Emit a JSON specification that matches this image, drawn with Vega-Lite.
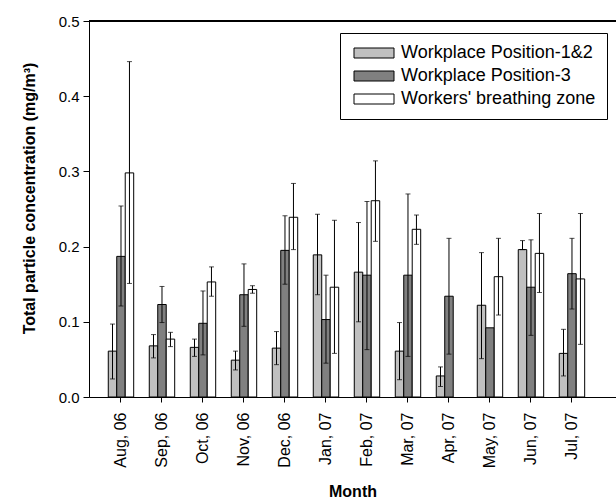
{
  "$schema": "https://vega.github.io/schema/vega-lite/v6.json",
  "width": 527,
  "height": 376,
  "autosize": {"type": "none"},
  "padding": {"left": 89, "top": 21, "right": 0, "bottom": 106},
  "background": "white",
  "config": {
    "font": "Liberation Sans",
    "view": {"stroke": null},
    "axis": {"grid": false, "domainColor": "black", "tickColor": "black", "labelColor": "black", "titleColor": "black", "titleFontWeight": "bold", "titleFontSize": 15, "labelFont": "Liberation Sans", "titleFont": "Liberation Sans"}
  },
  "data": {"values": [
    {"month": "Aug, 06", "series": "Workplace Position-1&2", "value": 0.061, "lo": 0.024, "hi": 0.097},
    {"month": "Aug, 06", "series": "Workplace Position-3", "value": 0.187, "lo": 0.121, "hi": 0.254},
    {"month": "Aug, 06", "series": "Workers' breathing zone", "value": 0.298, "lo": 0.151, "hi": 0.446},
    {"month": "Sep, 06", "series": "Workplace Position-1&2", "value": 0.068, "lo": 0.052, "hi": 0.083},
    {"month": "Sep, 06", "series": "Workplace Position-3", "value": 0.123, "lo": 0.099, "hi": 0.147},
    {"month": "Sep, 06", "series": "Workers' breathing zone", "value": 0.077, "lo": 0.067, "hi": 0.086},
    {"month": "Oct, 06", "series": "Workplace Position-1&2", "value": 0.066, "lo": 0.054, "hi": 0.077},
    {"month": "Oct, 06", "series": "Workplace Position-3", "value": 0.098, "lo": 0.056, "hi": 0.141},
    {"month": "Oct, 06", "series": "Workers' breathing zone", "value": 0.153, "lo": 0.134, "hi": 0.173},
    {"month": "Nov, 06", "series": "Workplace Position-1&2", "value": 0.049, "lo": 0.036, "hi": 0.061},
    {"month": "Nov, 06", "series": "Workplace Position-3", "value": 0.136, "lo": 0.094, "hi": 0.177},
    {"month": "Nov, 06", "series": "Workers' breathing zone", "value": 0.143, "lo": 0.138, "hi": 0.148},
    {"month": "Dec, 06", "series": "Workplace Position-1&2", "value": 0.065, "lo": 0.043, "hi": 0.087},
    {"month": "Dec, 06", "series": "Workplace Position-3", "value": 0.195, "lo": 0.150, "hi": 0.241},
    {"month": "Dec, 06", "series": "Workers' breathing zone", "value": 0.239, "lo": 0.196, "hi": 0.284},
    {"month": "Jan, 07", "series": "Workplace Position-1&2", "value": 0.189, "lo": 0.136, "hi": 0.243},
    {"month": "Jan, 07", "series": "Workplace Position-3", "value": 0.103, "lo": 0.045, "hi": 0.162},
    {"month": "Jan, 07", "series": "Workers' breathing zone", "value": 0.146, "lo": 0.058, "hi": 0.235},
    {"month": "Feb, 07", "series": "Workplace Position-1&2", "value": 0.166, "lo": 0.100, "hi": 0.232},
    {"month": "Feb, 07", "series": "Workplace Position-3", "value": 0.162, "lo": 0.063, "hi": 0.260},
    {"month": "Feb, 07", "series": "Workers' breathing zone", "value": 0.261, "lo": 0.207, "hi": 0.314},
    {"month": "Mar, 07", "series": "Workplace Position-1&2", "value": 0.061, "lo": 0.023, "hi": 0.099},
    {"month": "Mar, 07", "series": "Workplace Position-3", "value": 0.162, "lo": 0.054, "hi": 0.270},
    {"month": "Mar, 07", "series": "Workers' breathing zone", "value": 0.223, "lo": 0.203, "hi": 0.242},
    {"month": "Apr, 07", "series": "Workplace Position-1&2", "value": 0.028, "lo": 0.014, "hi": 0.040},
    {"month": "Apr, 07", "series": "Workplace Position-3", "value": 0.134, "lo": 0.057, "hi": 0.211},
    {"month": "May, 07", "series": "Workplace Position-1&2", "value": 0.122, "lo": 0.051, "hi": 0.192},
    {"month": "May, 07", "series": "Workplace Position-3", "value": 0.092},
    {"month": "May, 07", "series": "Workers' breathing zone", "value": 0.160, "lo": 0.109, "hi": 0.211},
    {"month": "Jun, 07", "series": "Workplace Position-1&2", "value": 0.196, "lo": 0.196, "hi": 0.208},
    {"month": "Jun, 07", "series": "Workplace Position-3", "value": 0.146, "lo": 0.082, "hi": 0.209},
    {"month": "Jun, 07", "series": "Workers' breathing zone", "value": 0.191, "lo": 0.139, "hi": 0.244},
    {"month": "Jul, 07", "series": "Workplace Position-1&2", "value": 0.058, "lo": 0.028, "hi": 0.090},
    {"month": "Jul, 07", "series": "Workplace Position-3", "value": 0.164, "lo": 0.117, "hi": 0.211},
    {"month": "Jul, 07", "series": "Workers' breathing zone", "value": 0.157, "lo": 0.070, "hi": 0.244}
  ]},
  "encoding": {
    "x": {
      "field": "month", "type": "nominal", "sort": null,
      "scale": {"type": "band", "paddingInner": 0.38, "paddingOuter": 0.617, "align": 0.381, "round": false},
      "axis": {"title": "Month", "labelAngle": -90, "labelFontSize": 16, "tickSize": 5, "labelPadding": 10, "titlePadding": 16, "titleFontSize": 16, "domainWidth": 1}
    },
    "xOffset": {
      "field": "series", "type": "nominal",
      "sort": ["Workplace Position-1&2", "Workplace Position-3", "Workers' breathing zone"],
      "scale": {"paddingInner": 0, "paddingOuter": 0, "round": false}
    }
  },
  "layer": [
    {
      "mark": {"type": "rule", "color": "black", "strokeWidth": 1},
      "encoding": {"y": {"datum": 0.5, "type": "quantitative"}, "x": null, "xOffset": null}
    },
    {
      "mark": {"type": "bar", "stroke": "black", "strokeWidth": 1},
      "encoding": {
        "y": {
          "field": "value", "type": "quantitative",
          "scale": {"domain": [0, 0.5], "nice": false, "zero": true},
          "axis": {"title": "Total particle concentration (mg/m³)", "values": [0, 0.1, 0.2, 0.3, 0.4, 0.5], "format": ".1f", "labelFontSize": 15, "tickSize": 6, "labelPadding": 4, "titleFontSize": 16, "titleX": -52, "titleY": 177}
        },
        "fill": {
          "field": "series", "type": "nominal",
          "sort": ["Workplace Position-1&2", "Workplace Position-3", "Workers' breathing zone"],
          "scale": {"domain": ["Workplace Position-1&2", "Workplace Position-3", "Workers' breathing zone"], "range": ["#c0c0c0", "#808080", "#ffffff"]},
          "legend": {
            "title": null, "orient": "none", "legendX": 251, "legendY": 12,
            "strokeColor": "black", "fillColor": "white", "padding": 11,
            "labelFontSize": 18, "labelColor": "black", "labelFont": "Liberation Sans", "labelLimit": 0,
            "symbolType": "M-4,-1H4V1H-4Z", "symbolSize": 100, "symbolOffset": 14,
            "symbolStrokeColor": "black", "symbolStrokeWidth": 1, "symbolOpacity": 1,
            "labelOffset": 18, "rowPadding": 5
          }
        }
      }
    },
    {
      "transform": [{"filter": "isValid(datum.hi)"}],
      "mark": {"type": "rule", "color": "black", "strokeWidth": 1},
      "encoding": {"y": {"field": "lo", "type": "quantitative"}, "y2": {"field": "hi"}}
    },
    {
      "transform": [{"filter": "isValid(datum.hi)"}],
      "mark": {"type": "tick", "orient": "horizontal", "color": "black", "thickness": 1, "size": 5},
      "encoding": {"y": {"field": "hi", "type": "quantitative"}}
    },
    {
      "transform": [{"filter": "isValid(datum.hi)"}],
      "mark": {"type": "tick", "orient": "horizontal", "color": "black", "thickness": 1, "size": 5},
      "encoding": {"y": {"field": "lo", "type": "quantitative"}}
    }
  ]
}
